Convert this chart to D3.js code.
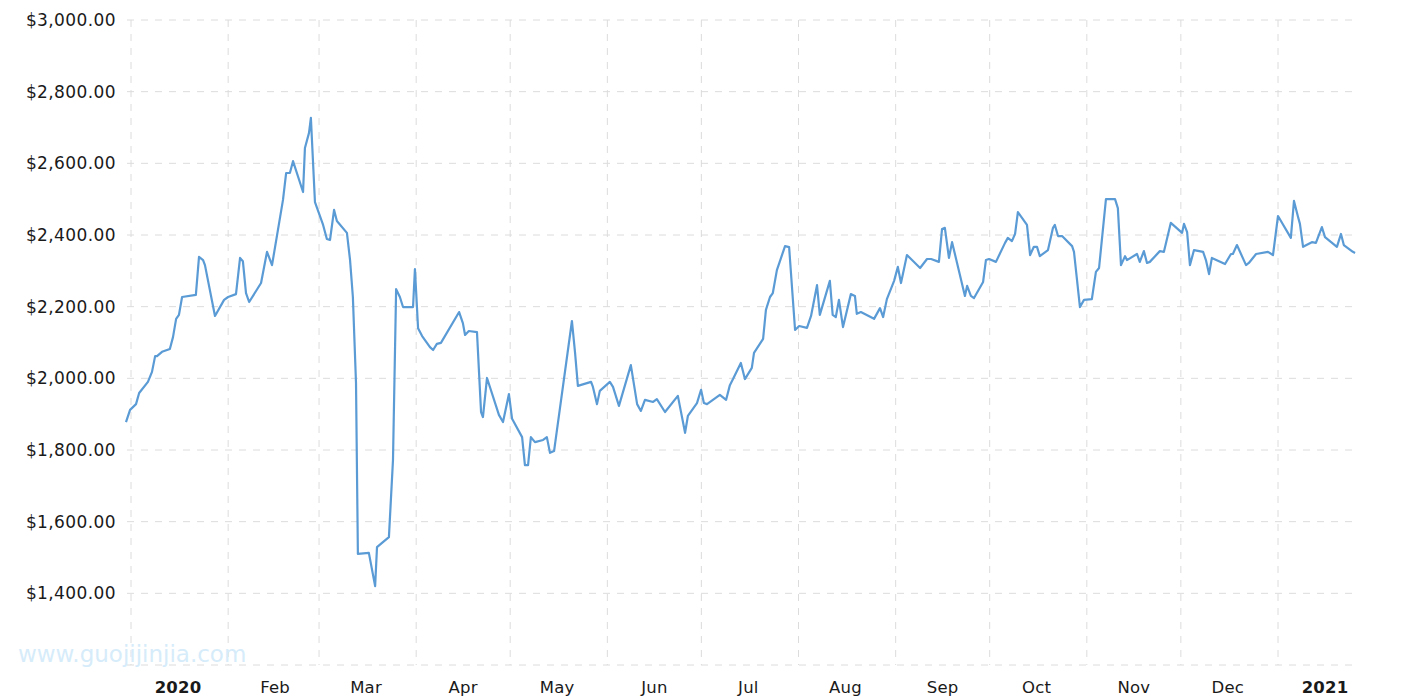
<!DOCTYPE html>
<html><head><meta charset="utf-8">
<script src="https://cdn.jsdelivr.net/npm/d3@7"></script>
<style>body{margin:0;background:#fff}svg{display:block}</style>
</head><body><svg id="c" width="1415" height="700"></svg>
<script>
// day offsets from 2020-01-01 (trading days)
const days = [-1.6,-0.3,1.6,2.6,5.4,6.7,7.7,8.3,9.9,12.4,13.4,14.4,15.3,16.3,20.7,21.7,23.0,23.6,26.8,29.7,31.0,33.5,34.8,35.7,36.7,37.7,40.5,41.5,43.4,45.0,48.5,49.5,50.7,51.7,54.9,55.5,56.8,57.4,58.7,61.3,62.5,63.5,64.8,65.7,68.9,69.9,70.8,71.8,72.4,75.9,77.9,78.5,80.1,82.3,83.6,84.6,85.8,86.8,90.0,90.6,91.6,92.9,95.4,96.4,97.6,98.9,104.7,105.9,106.6,107.8,110.4,111.7,112.3,113.6,117.4,118.7,120.6,121.6,124.8,125.7,126.7,127.6,128.9,131.5,132.7,133.7,135.0,140.7,141.7,142.6,146.8,147.4,148.7,149.6,152.8,153.8,155.7,159.5,161.5,162.7,164.0,166.6,167.8,170.4,174.5,176.8,177.7,180.6,181.9,182.8,183.8,187.9,189.9,191.1,192.1,194.6,195.9,198.1,198.8,201.7,202.6,203.9,204.8,206.1,208.7,210.0,211.9,213.2,215.7,217.0,218.9,219.8,223.0,223.9,224.9,225.9,227.2,229.7,231.0,231.6,232.9,237.1,239.0,240.0,241.2,243.5,244.7,245.7,247.6,251.8,254.0,255.3,257.8,258.8,259.7,261.0,262.0,266.1,266.8,268.0,269.0,271.9,272.8,273.8,276.0,278.9,279.8,281.1,282.1,283.0,285.9,286.9,288.1,289.1,290.0,292.6,294.2,294.8,295.8,297.1,300.3,300.9,302.8,304.1,306.6,307.9,308.9,311.1,314.0,314.9,315.9,317.2,317.8,321.0,321.9,323.2,324.2,325.1,328.3,329.6,331.8,335.4,336.0,337.0,337.9,339.2,342.1,343.0,344.0,344.9,349.1,351.0,351.6,352.9,355.8,356.7,359.0,362.8,364.4,366.0,370.1,371.1,372.4,373.0,374.0,376.8,378.1,380.0,381.0,384.8,386.1,387.0,389.9,390.6];
const prices = [1878,1912,1928,1959,1990,2018,2062,2062,2074,2082,2115,2166,2177,2227,2233,2339,2330,2316,2174,2219,2227,2235,2336,2327,2238,2213,2252,2266,2353,2316,2498,2573,2573,2606,2520,2643,2685,2727,2492,2428,2389,2386,2470,2439,2406,2330,2227,1987,1510,1513,1420,1529,1541,1557,1772,2249,2227,2199,2199,2305,2140,2118,2087,2079,2096,2099,2185,2154,2121,2132,2129,1906,1892,2001,1898,1878,1956,1887,1836,1758,1758,1836,1822,1828,1836,1792,1797,2160,2071,1979,1990,1976,1928,1965,1990,1976,1923,2037,1928,1909,1940,1934,1942,1906,1951,1848,1895,1931,1968,1931,1928,1954,1940,1981,1998,2043,1998,2029,2071,2110,2191,2227,2238,2302,2369,2366,2135,2146,2141,2174,2260,2177,2272,2177,2171,2219,2143,2235,2230,2180,2185,2166,2196,2171,2221,2272,2311,2266,2344,2308,2333,2333,2325,2417,2420,2336,2380,2230,2258,2230,2224,2269,2330,2333,2325,2378,2392,2383,2403,2464,2428,2344,2367,2367,2341,2358,2420,2428,2397,2397,2369,2353,2199,2219,2221,2297,2308,2500,2500,2475,2316,2341,2330,2347,2325,2355,2322,2325,2355,2353,2434,2406,2431,2408,2316,2358,2353,2330,2291,2336,2319,2347,2347,2372,2316,2322,2347,2353,2344,2453,2392,2495,2450,2431,2367,2380,2378,2422,2394,2367,2403,2372,2353,2350];
const yTicks = [1400,1600,1800,2000,2200,2400,2600,2800,3000];
const monthLabels = ["2020","Feb","Mar","Apr","May","Jun","Jul","Aug","Sep","Oct","Nov","Dec","2021"];

const svg = d3.select("#c");
const base = new Date(2020,0,1);
const toDate = d => new Date(base.getTime() + d*864e5);
const x = d3.scaleTime().domain([new Date(2020,0,1), new Date(2021,0,1)]).range([131,1278]);
const y = d3.scaleLinear().domain([1200,3000]).range([665,20]);
const left = 127, right = 1355;
const grid = "#dcdcdc";
const font = "Verdana, DejaVu Sans, sans-serif";

const months = d3.range(13).map(i => new Date(2020, i, 1));
svg.append("g").selectAll("line").data(months).join("line")
  .attr("x1", d => x(d)).attr("x2", d => x(d)).attr("y1", 20).attr("y2", 665)
  .attr("stroke", grid).attr("stroke-dasharray", "7,7");
svg.append("g").selectAll("line").data([1200, ...yTicks]).join("line")
  .attr("x1", left).attr("x2", right).attr("y1", d => y(d)).attr("y2", d => y(d))
  .attr("stroke", grid).attr("stroke-dasharray", "7,7");

const fmt = d3.format("$,.2f");
svg.append("g").selectAll("text").data(yTicks).join("text")
  .attr("x", 116).attr("y", d => y(d)).attr("dy", "0.35em").attr("text-anchor", "end")
  .attr("font-family", font).attr("font-size", 17).attr("letter-spacing", 0.4).attr("fill", "#1a1a1a")
  .text(d => fmt(d));

svg.append("g").selectAll("text").data(monthLabels).join("text")
  .attr("x", (d,i) => x(new Date(2020,i,16)))
  .attr("y", 687).attr("dy", "0.35em").attr("text-anchor", "middle")
  .attr("font-family", font).attr("font-size", 16.5).attr("letter-spacing", 0.2)
  .attr("font-weight", (d,i) => (i===0||i===12) ? "bold" : "normal").attr("fill", "#1a1a1a")
  .text(d => d);

svg.append("text").attr("x", 18).attr("y", 662).attr("font-family", font)
  .attr("font-size", 23).attr("fill", "#d6ecfa").text("www.guojijinjia.com");

const data = days.map((d,i) => ({date: toDate(d), v: prices[i]}));
svg.append("path").datum(data)
  .attr("fill", "none").attr("stroke", "#5b9bd5").attr("stroke-width", 2.2).attr("stroke-linejoin", "round")
  .attr("d", d3.line().x(d => x(d.date)).y(d => y(d.v)));
</script></body></html>
